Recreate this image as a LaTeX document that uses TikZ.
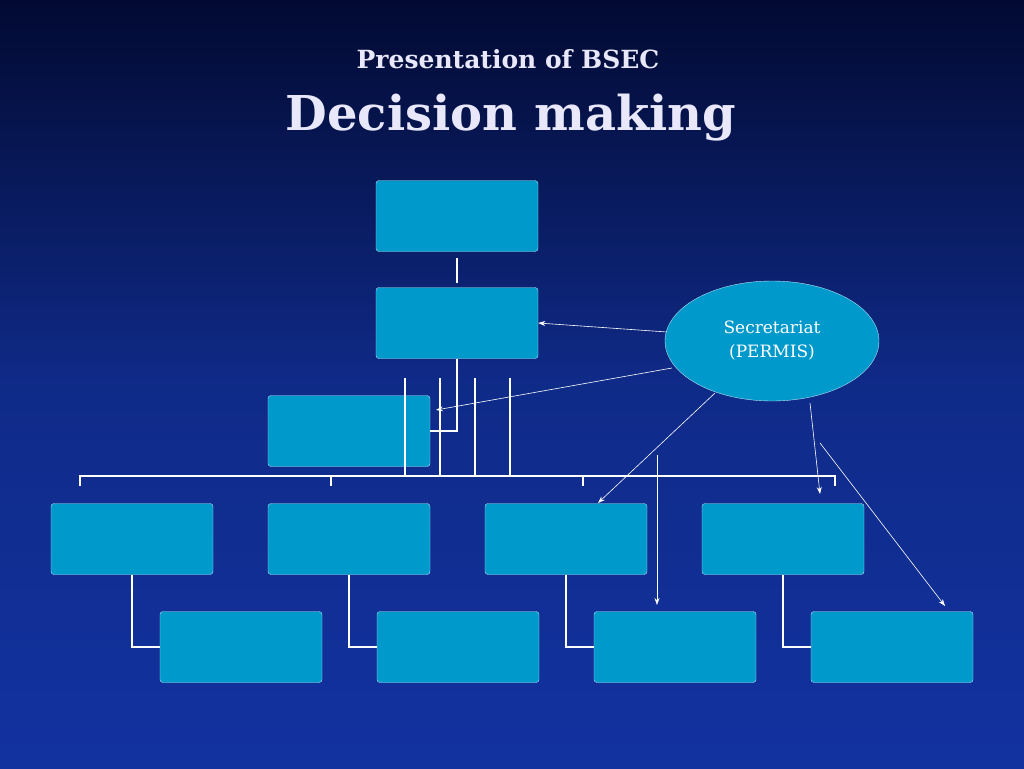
\documentclass[tikz,border=0pt]{standalone}
\usepackage{fontspec}
\setmainfont{DejaVu Serif}
\usetikzlibrary{arrows.meta, positioning, shapes.geometric}
\definecolor{boxfill}{RGB}{0,153,204}
\definecolor{bgtop}{RGB}{2,10,50}
\definecolor{bgbot}{RGB}{18,50,160}
\definecolor{titlecol}{RGB}{232,232,250}
\tikzset{
  org/.style={draw=white!70!boxfill, fill=boxfill, rounded corners=3pt, minimum width=162pt, minimum height=71pt, inner sep=0pt},
  link/.style={white, line width=2.2pt},
  note/.style={white, line width=0.6pt, -{Stealth[length=7pt,width=5pt]}}
}
\begin{document}
\begin{tikzpicture}[x=1pt,y=-1pt]
\shade[top color=bgtop, bottom color=bgbot, middle color=bgbot!85!black] (0,0) rectangle (1024,768);
\useasboundingbox (0,0) rectangle (1024,768);
\node[titlecol, font=\bfseries\fontsize{25}{28}\selectfont] (sub) at (508,59) {Presentation of BSEC};
\node[titlecol, font=\bfseries\fontsize{48}{54}\selectfont] (title) at (511,118) {Decision making};
% boxes
\node[org] (top) at (457,216) {};
\node[org] (mid) at (457,323) {};
\node[org] (aux) at (349,431) {};
\foreach \i/\x in {1/132,2/349,3/566,4/783}{
  \node[org] (up\i) at (\x,539) {};
  \node[org] (lo\i) at (\x+109,647) {};
  \draw[link] (up\i.south) |- (lo\i.west);
}
% connectors
\draw[link] (457,258) -- (457,283);
\draw[link] (mid.south) |- (aux.east);
\foreach \x in {405,440,475,510}
  \draw[link] (\x,378) -- (\x,476);
\draw[link] (80,486) -- (80,476) -- (835,476) -- (835,486);
\draw[link] (331,476) -- (331,486);
\draw[link] (583,476) -- (583,486);
% secretariat
\node[ellipse, draw=white!70!boxfill, fill=boxfill, minimum width=214pt, minimum height=120pt, align=center, text=white, font=\fontsize{17}{24}\selectfont] (sec) at (772,341) {Secretariat\\ (PERMIS)};
\coordinate (a1) at (667,332);
\coordinate (a2) at (672,368);
\coordinate (a3) at (715,393);
\coordinate (a4) at (810,403);
\coordinate (s1) at (657,455);
\coordinate (s2) at (820,443);
\draw[note] (a1) -- (mid.east);
\draw[note] (a2) -- (436,410);
\draw[note] (a3) -- (598,503);
\draw[note] (a4) -- (820,494);
\draw[note] (s1) -- (657,605);
\draw[note] (s2) -- (945,606);
\end{tikzpicture}
\end{document}
